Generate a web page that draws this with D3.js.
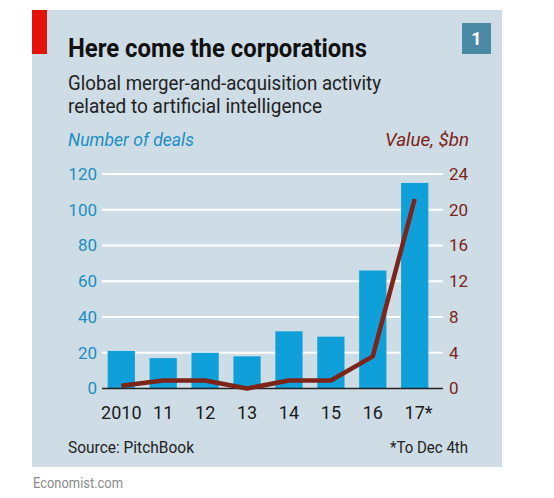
<!DOCTYPE html>
<html><head><meta charset="utf-8">
<script src="https://cdn.jsdelivr.net/npm/d3@7"></script>
<style>html,body{margin:0;padding:0;background:#fff;}svg{display:block;font-family:Roboto,"Noto Sans",sans-serif;}</style>
</head><body>
<svg id="c" width="554" height="498"></svg>
<script>
const years = ["2010","11","12","13","14","15","16","17*"];
const deals = [21,17,20,18,32,29,66,115];
const valueBn = [0.3,0.9,0.9,0,0.9,0.9,3.6,21.2];
const leftTicks = [0,20,40,60,80,100,120];
const rightTicks = [0,4,8,12,16,20,24];

const svg = d3.select("#c");
const blue = "#10a0d9", red = "#7b2417";
// panel
svg.append("rect").attr("x",32).attr("y",10).attr("width",470).attr("height",457).attr("fill","#cedce6");
svg.append("rect").attr("x",32).attr("y",10).attr("width",15).attr("height",44).attr("fill","#e3120b");
svg.append("rect").attr("x",462).attr("y",23).attr("width",29).attr("height",31).attr("fill","#4b8aa5");
svg.append("text").attr("x",476.5).attr("y",45).attr("text-anchor","middle").attr("fill","#fff")
  .attr("font-weight","bold").attr("font-size",18).text("1");

svg.append("text").attr("x",68).attr("y",57).attr("font-size",26).attr("font-weight","bold").attr("fill","#111")
  .attr("textLength",299).attr("lengthAdjust","spacingAndGlyphs").text("Here come the corporations");
svg.append("text").attr("x",68).attr("y",90).attr("font-size",20).attr("fill","#222")
  .attr("textLength",313).attr("lengthAdjust","spacingAndGlyphs").text("Global merger-and-acquisition activity");
svg.append("text").attr("x",68).attr("y",113).attr("font-size",20).attr("fill","#222")
  .attr("textLength",254).attr("lengthAdjust","spacingAndGlyphs").text("related to artificial intelligence");

svg.append("text").attr("x",68).attr("y",146).attr("font-size",18).attr("font-style","italic").attr("fill","#1a8fc2")
  .attr("textLength",126).attr("lengthAdjust","spacingAndGlyphs").text("Number of deals");
svg.append("text").attr("x",469).attr("y",146).attr("font-size",18).attr("font-style","italic").attr("fill",red)
  .attr("text-anchor","end").attr("textLength",84).attr("lengthAdjust","spacingAndGlyphs").text("Value, $bn");

const x = d3.scaleBand().domain(years).range([93,443]).paddingInner(0.35).paddingOuter(0.35);
const yL = d3.scaleLinear().domain([0,120]).range([388.5,174]);
const yR = d3.scaleLinear().domain([0,24]).range([388.5,174]);

// gridlines
svg.append("g").selectAll("line").data(leftTicks.slice(1)).join("line")
  .attr("x1",102).attr("x2",443).attr("y1",d=>yL(d)).attr("y2",d=>yL(d))
  .attr("stroke","#fff").attr("stroke-width",2);

// left axis
const gL = svg.append("g").attr("transform","translate(102,0)")
  .call(d3.axisLeft(yL).tickValues(leftTicks).tickSize(0).tickPadding(5));
gL.select(".domain").remove();
gL.selectAll("text").attr("font-size",17).attr("fill","#1a8fc2").attr("font-family","Roboto,sans-serif");

// right axis
const gR = svg.append("g").attr("transform","translate(443,0)")
  .call(d3.axisRight(yR).tickValues(rightTicks).tickSize(0).tickPadding(6));
gR.select(".domain").remove();
gR.selectAll("text").attr("font-size",17).attr("fill",red).attr("font-family","Roboto,sans-serif");

// bars
svg.append("g").selectAll("rect").data(deals).join("rect")
  .attr("x",(d,i)=>x(years[i])).attr("width",x.bandwidth())
  .attr("y",d=>yL(d)).attr("height",d=>yL(0)-yL(d)).attr("fill",blue);

// baseline
svg.append("line").attr("x1",102).attr("x2",443).attr("y1",yL(0)).attr("y2",yL(0)).attr("stroke","#222").attr("stroke-width",1.5);

// line
const line = d3.line().x((d,i)=>x(years[i])+x.bandwidth()/2).y(d=>yR(d));
svg.append("path").datum(valueBn).attr("d",line).attr("fill","none").attr("stroke",red)
  .attr("stroke-width",4.5).attr("stroke-linejoin","round");

// x axis labels
const gX = svg.append("g").attr("transform","translate(0,"+yL(0)+")")
  .call(d3.axisBottom(x).tickSize(0).tickPadding(0).tickFormat(()=>""));
gX.select(".domain").remove();
gX.selectAll(".tick").each(function(d){
  const t = d3.select(this).append("text").attr("y",30.5).attr("font-size",18).attr("fill","#1a1a1a")
    .attr("font-family","Roboto,sans-serif");
  const main = d.replace("*","");
  t.text(main).attr("text-anchor","middle");
  if (d.includes("*")) {
    const w = this.querySelector("text:last-child").getComputedTextLength();
    t.attr("text-anchor","start").attr("x",-w/2);
    t.append("tspan").text("*");
  }
});

svg.append("text").attr("x",68).attr("y",453).attr("font-size",17).attr("fill","#222")
  .attr("textLength",126).attr("lengthAdjust","spacingAndGlyphs").text("Source: PitchBook");
svg.append("text").attr("x",468).attr("y",453).attr("font-size",17).attr("fill","#222").attr("text-anchor","end")
  .attr("textLength",78).attr("lengthAdjust","spacingAndGlyphs").text("*To Dec 4th");
svg.append("text").attr("x",33).attr("y",488).attr("font-size",15).attr("fill","#8a8a8a")
  .attr("textLength",90).attr("lengthAdjust","spacingAndGlyphs").text("Economist.com");
</script>
</body></html>
